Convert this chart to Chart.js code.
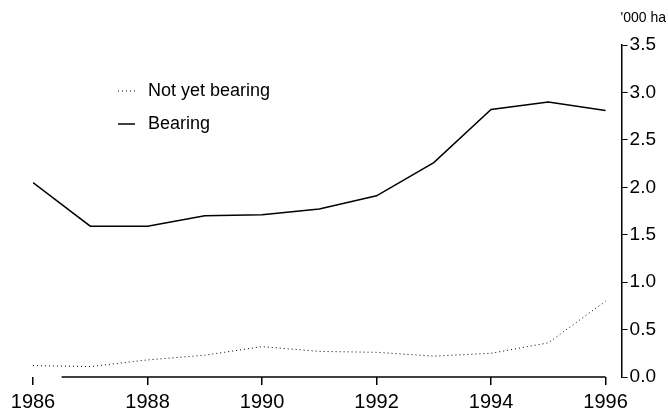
<!DOCTYPE html>
<html>
<head>
<meta charset="utf-8">
<script src="https://cdn.jsdelivr.net/npm/chart.js@4"></script>
<style>
	html, body { margin: 0; padding: 0; background: #fff; }
	#wrap { width: 668px; height: 419px; position: relative; }
</style>
</head>
<body>
<div id="wrap"><canvas id="area-chart"></canvas></div>
<script>
const YEARS = [1986, 1987, 1988, 1989, 1990, 1991, 1992, 1993, 1994, 1995, 1996];
const BEARING = [2.05, 1.59, 1.59, 1.70, 1.71, 1.77, 1.91, 2.26, 2.82, 2.90, 2.81];
const NOT_YET_BEARING = [0.12, 0.11, 0.18, 0.23, 0.32, 0.27, 0.26, 0.22, 0.25, 0.36, 0.80];
const X_TICKS = [1986, 1988, 1990, 1992, 1994, 1996];
const UNIT_LABEL = "'000 ha";

const FONT = "'Liberation Sans', Arial, sans-serif";

function toPoints(values) {
	return YEARS.map((year, i) => ({ x: year, y: values[i] }));
}

// axis line along the bottom starts half a year in, like the original
const bottomAxis = {
	id: 'bottomAxis',
	afterDraw(chart) {
		const ctx = chart.ctx;
		const x = chart.scales.x;
		const y = chart.scales.y;
		const yPos = y.getPixelForValue(0);
		ctx.save();
		ctx.strokeStyle = '#000';
		ctx.lineWidth = 1.5;
		ctx.beginPath();
		ctx.moveTo(x.getPixelForValue(1986.5), yPos);
		ctx.lineTo(x.getPixelForValue(1996), yPos);
		ctx.stroke();
		ctx.restore();
	},
};

// unit label over the y axis, and the key in the upper left
const unitAndKey = {
	id: 'unitAndKey',
	afterDraw(chart) {
		const ctx = chart.ctx;
		const y = chart.scales.y;
		ctx.save();
		ctx.fillStyle = '#000';
		ctx.font = '14px ' + FONT;
		ctx.textAlign = 'left';
		ctx.textBaseline = 'middle';
		ctx.fillText(UNIT_LABEL, y.left - 1, 18);

		const rows = [91, 124];
		chart.data.datasets.forEach((ds, i) => {
			const rowY = rows[i];
			ctx.strokeStyle = ds.borderColor;
			ctx.lineWidth = ds.borderWidth;
			ctx.setLineDash(ds.borderDash || []);
			ctx.beginPath();
			ctx.moveTo(118, rowY);
			ctx.lineTo(135, rowY);
			ctx.stroke();
			ctx.setLineDash([]);
			ctx.font = '18px ' + FONT;
			ctx.fillText(ds.label, 148, rowY);
		});
		ctx.restore();
	},
};

const data = {
	datasets: [
		{
			label: 'Not yet bearing',
			data: toPoints(NOT_YET_BEARING),
			borderColor: '#000',
			borderWidth: 1,
			borderDash: [1, 3],
			pointRadius: 0,
			tension: 0,
		},
		{
			label: 'Bearing',
			data: toPoints(BEARING),
			borderColor: '#000',
			borderWidth: 1.5,
			pointRadius: 0,
			tension: 0,
		},
	],
};

const config = {
	type: 'line',
	data,
	options: {
		responsive: true,
		maintainAspectRatio: false,
		animation: false,
		layout: {
			padding: { left: 33, right: 10, top: 45, bottom: 0 },
		},
		plugins: {
			legend: { display: false },
			tooltip: { enabled: false },
		},
		scales: {
			x: {
				type: 'linear',
				min: 1986,
				max: 1996.28,
				afterBuildTicks(scale) {
					scale.ticks = X_TICKS.map((v) => ({ value: v }));
				},
				border: { display: false },
				grid: {
					drawOnChartArea: false,
					drawTicks: true,
					tickLength: 8,
					color: '#000',
					lineWidth: 1.5,
				},
				ticks: {
					color: '#000',
					font: { family: FONT, size: 20 },
					padding: 5,
					maxRotation: 0,
					autoSkip: false,
					callback: (v) => String(v),
				},
			},
			y: {
				position: 'right',
				min: 0,
				max: 3.5,
				border: { display: true, color: '#000', width: 1.5 },
				grid: {
					drawOnChartArea: false,
					drawTicks: true,
					tickLength: 6,
					color: '#000',
				},
				ticks: {
					stepSize: 0.5,
					color: '#000',
					font: { family: FONT, size: 19 },
					padding: 2,
					callback: (v) => v.toFixed(1),
				},
			},
		},
	},
	plugins: [bottomAxis, unitAndKey],
};

new Chart(document.getElementById('area-chart'), config);
</script>
</body>
</html>
